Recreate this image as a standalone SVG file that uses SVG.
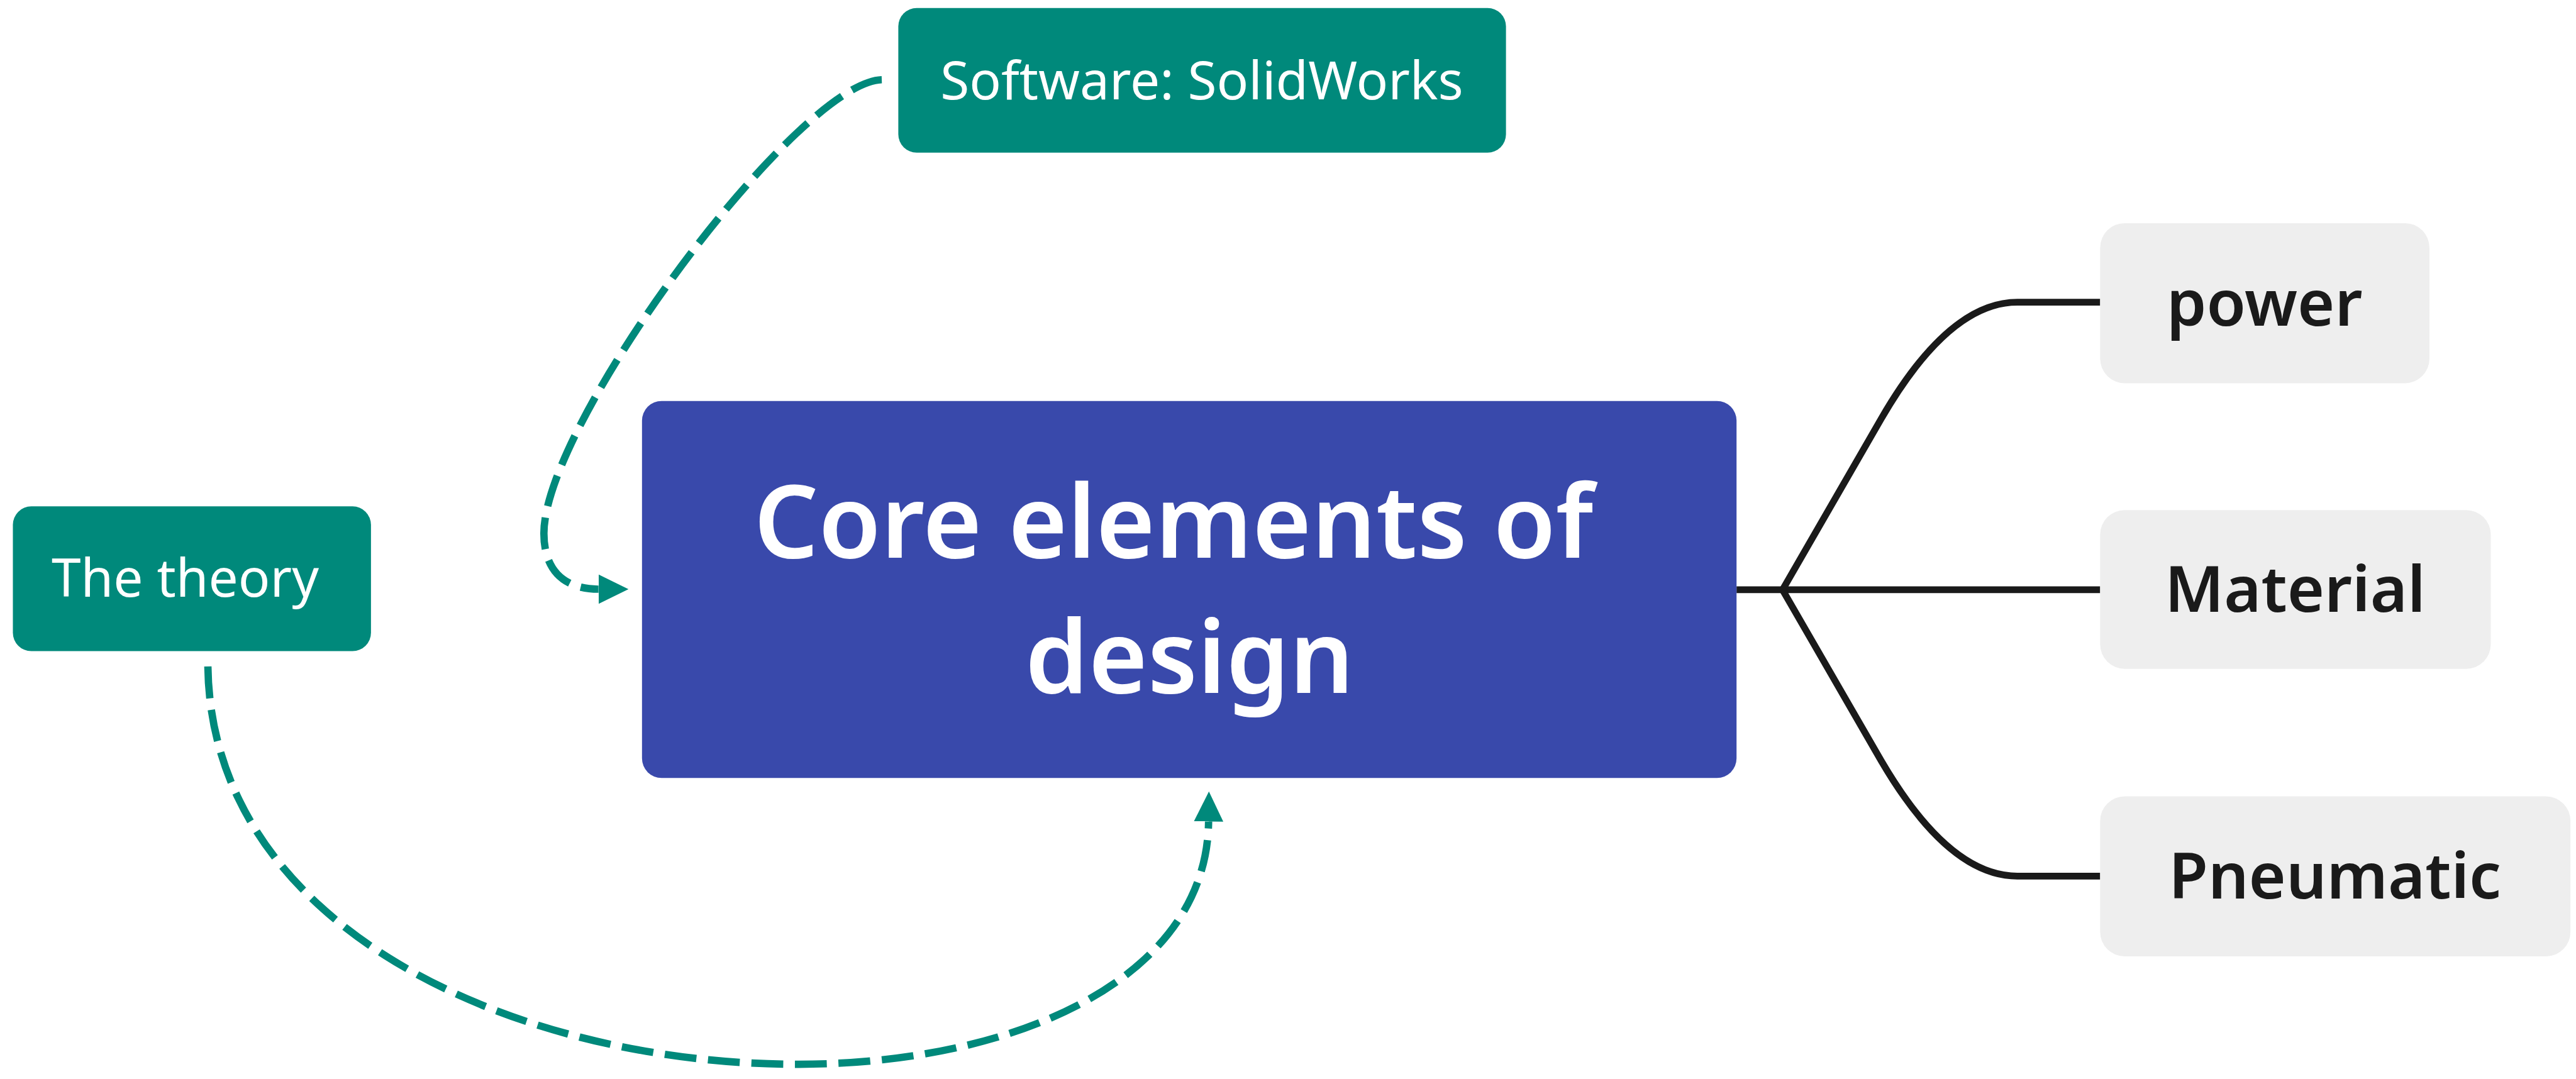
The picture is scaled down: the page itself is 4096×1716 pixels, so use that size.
<svg xmlns="http://www.w3.org/2000/svg" width="4096" height="1716" viewBox="0 0 4096 1716">
  <defs>
    <style>
      .teal { fill: #00897B; }
      .core { fill: #3949AB; }
      .leaf { fill: #EEEEEE; }
      .t-small { font-family: "Noto Sans", "Open Sans", sans-serif; font-size: 86px; fill: #FFFFFF; text-anchor: middle; }
      .t-core { font-family: "Noto Sans", "Open Sans", sans-serif; font-size: 165px; font-weight: 600; fill: #FFFFFF; text-anchor: middle; }
      .t-leaf { font-family: "Noto Sans", "Open Sans", sans-serif; font-size: 104px; font-weight: 600; fill: #1A1A1A; text-anchor: middle; }
      .branch { fill: none; stroke: #1A1A1A; stroke-width: 11; }
      .link { fill: none; stroke: #00897B; stroke-width: 12; stroke-dasharray: 52 19; }
    </style>
    <marker id="tealArrow" markerUnits="userSpaceOnUse" markerWidth="50" markerHeight="50" viewBox="0 -24 48 48" refX="0" refY="0" orient="auto">
      <path d="M0,-23 L47,0 L0,23 Z" fill="#00897B"/>
    </marker>
  </defs>
  <rect width="4096" height="1716" fill="#FFFFFF"/>
  <g transform="scale(0.975)">
    <!-- connectors -->
    <g id="connectors">
      <path class="branch" d="M2832,962 H3425"/>
      <path class="branch" d="M2907,962 L3068,683 Q3178,493 3290,493 H3425"/>
      <path class="branch" d="M2907,962 L3068,1241 Q3178,1429 3290,1429 H3425"/>
      <path class="link" marker-end="url(#tealArrow)" d="M1438,130 C1300,135 887,690 887,870 C887,930 920,961 976,961"/>
      <path class="link" marker-end="url(#tealArrow)" d="M339,1087 C345,1520 850,1736 1300,1736 C1650,1736 1968,1600 1971,1340"/>
    </g>

    <g id="node-software">
      <rect class="teal" x="1465" y="13" width="991" height="236" rx="30" ry="30"/>
      <text class="t-small" x="1960" y="162">Software: SolidWorks</text>
    </g>

    <g id="node-theory">
      <rect class="teal" x="21" y="826" width="584" height="236" rx="30" ry="30"/>
      <text class="t-small" x="302" y="973">The theory</text>
    </g>

    <g id="node-core">
      <rect class="core" x="1047" y="654" width="1785" height="615" rx="32" ry="32"/>
      <text class="t-core" x="1914" y="910">Core elements of</text>
      <text class="t-core" x="1940" y="1130">design</text>
    </g>

    <g id="node-power">
      <rect class="leaf" x="3425" y="364" width="537" height="261" rx="40" ry="40"/>
      <text class="t-leaf" x="3693" y="531">power</text>
    </g>

    <g id="node-material">
      <rect class="leaf" x="3425" y="832" width="637" height="259" rx="40" ry="40"/>
      <text class="t-leaf" x="3743" y="998">Material</text>
    </g>

    <g id="node-pneumatic">
      <rect class="leaf" x="3425" y="1299" width="767" height="261" rx="40" ry="40"/>
      <text class="t-leaf" x="3808" y="1466">Pneumatic</text>
    </g>
  </g>
</svg>
